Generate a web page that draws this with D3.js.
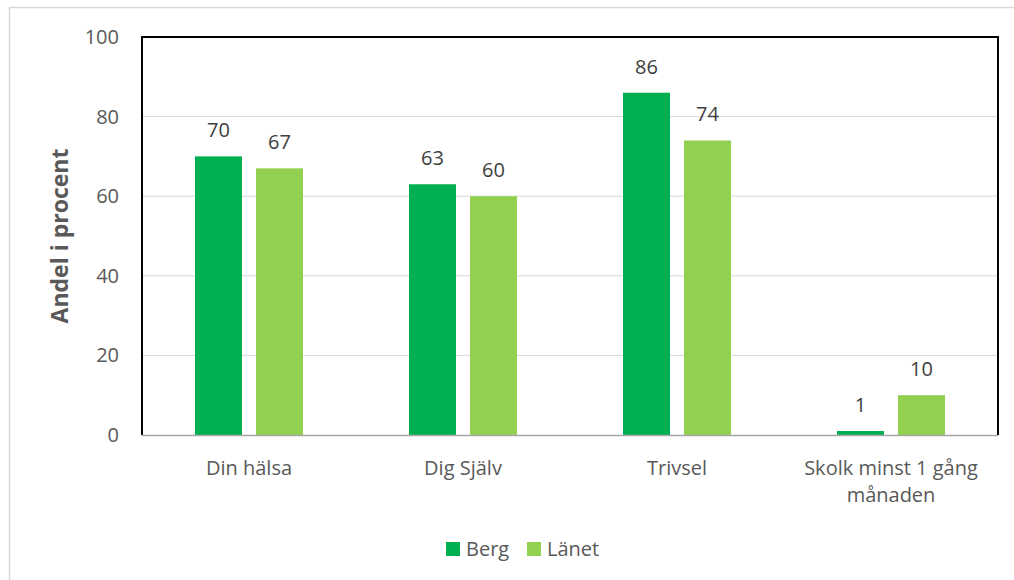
<!DOCTYPE html>
<html>
<head>
<meta charset="utf-8">
<script src="https://cdn.jsdelivr.net/npm/d3@7"></script>
<style>
  body { margin: 0; background: #fff; }
  svg text { font-family: "Open Sans", Lato, sans-serif; }
</style>
</head>
<body>
<div id="chart"></div>
<script>
var width = 1014,
    height = 580;

// data
const categories = ["Din hälsa", "Dig Själv", "Trivsel", "Skolk minst 1 gång månaden"];
const seriesNames = ["Berg", "Länet"];
const berg = [70, 63, 86, 1];
const lanet = [67, 60, 74, 10];
const yTicks = [0, 20, 40, 60, 80, 100];
const colors = ["#00b050", "#92d050"];

var margin = {top: 37, right: 16, bottom: 145, left: 142};

var svg = d3.select('#chart').append('svg')
  .attr('width', width)
  .attr('height', height);

// outer chart frame
svg.append('rect')
  .attr('x', 9.5).attr('y', 7.5)
  .attr('width', width + 10).attr('height', height + 10)
  .attr('fill', 'none')
  .attr('stroke', '#d9d9d9')
  .attr('stroke-width', 1.5);

var x0 = d3.scaleBand()
  .domain(categories)
  .range([margin.left, width - margin.right]);

var x1 = d3.scaleBand()
  .domain(seriesNames)
  .range([0, 108])
  .paddingInner(0.23);

var y = d3.scaleLinear()
  .domain([0, 100])
  .range([height - margin.bottom, margin.top]);

// gridlines
svg.append('g')
  .selectAll('line')
  .data(yTicks.filter(d => d > 0 && d < 100))
  .join('line')
  .attr('x1', margin.left).attr('x2', width - margin.right)
  .attr('y1', d => y(d)).attr('y2', d => y(d))
  .attr('stroke', '#d9d9d9')
  .attr('stroke-width', 1);

// y tick labels
svg.append('g')
  .selectAll('text')
  .data(yTicks)
  .join('text')
  .attr('x', 119)
  .attr('y', d => y(d) + 7)
  .attr('text-anchor', 'end')
  .attr('fill', '#595959')
  .attr('font-size', 20)
  .text(d => d);

// axis title
svg.append('text')
  .attr('transform', 'translate(68,' + ((y(0) + y(100)) / 2) + ') rotate(-90)')
  .attr('text-anchor', 'middle')
  .attr('fill', '#595959')
  .attr('font-size', 23)
  .attr('font-weight', 'bold')
  .text('Andel i procent');

// bars
var groups = svg.append('g')
  .selectAll('g')
  .data(categories)
  .join('g')
  .attr('transform', d => 'translate(' + (x0(d) + x0.bandwidth() / 2 - 54) + ',0)');

groups.each(function(cat, i) {
  var vals = [berg[i], lanet[i]];
  var g = d3.select(this);
  g.selectAll('rect')
    .data(vals)
    .join('rect')
    .attr('x', (d, j) => x1(seriesNames[j]))
    .attr('width', x1.bandwidth())
    .attr('y', d => y(d))
    .attr('height', d => y(0) - y(d))
    .attr('fill', (d, j) => colors[j]);
  g.selectAll('text')
    .data(vals)
    .join('text')
    .attr('x', (d, j) => x1(seriesNames[j]) + x1.bandwidth() / 2)
    .attr('y', d => y(d) - 19)
    .attr('text-anchor', 'middle')
    .attr('fill', '#404040')
    .attr('font-size', 20)
    .text(d => d);
});

// plot frame: black on top/left/right, grey base line
var left = margin.left, right = width - margin.right;
svg.append('path')
  .attr('d', 'M' + left + ',' + y(0) + 'V' + margin.top + 'H' + right + 'V' + y(0))
  .attr('fill', 'none')
  .attr('stroke', '#000')
  .attr('stroke-width', 2);
svg.append('line')
  .attr('x1', left).attr('x2', right)
  .attr('y1', y(0) + 0.5).attr('y2', y(0) + 0.5)
  .attr('stroke', '#a6a6a6')
  .attr('stroke-width', 1.5);

// category labels (wrapped)
var catLines = {
  "Skolk minst 1 gång månaden": ["Skolk minst 1 gång", "månaden"]
};
svg.append('g')
  .selectAll('text')
  .data(categories)
  .join('text')
  .attr('x', d => x0(d) + x0.bandwidth() / 2)
  .attr('y', 475)
  .attr('text-anchor', 'middle')
  .attr('fill', '#595959')
  .attr('font-size', 20)
  .each(function(d) {
    var lines = catLines[d] || [d];
    var t = d3.select(this);
    lines.forEach(function(l, k) {
      t.append('tspan')
        .attr('x', x0(d) + x0.bandwidth() / 2)
        .attr('dy', k === 0 ? 0 : 27)
        .text(l);
    });
  });

// legend
var legend = svg.append('g').attr('transform', 'translate(446,542)');
var legX = [0, 81];
seriesNames.forEach(function(name, i) {
  var lg = legend.append('g').attr('transform', 'translate(' + legX[i] + ',0)');
  lg.append('rect')
    .attr('width', 14).attr('height', 14)
    .attr('fill', colors[i]);
  lg.append('text')
    .attr('x', 20).attr('y', 14)
    .attr('fill', '#595959')
    .attr('font-size', 20)
    .text(name);
});
</script>
</body>
</html>
